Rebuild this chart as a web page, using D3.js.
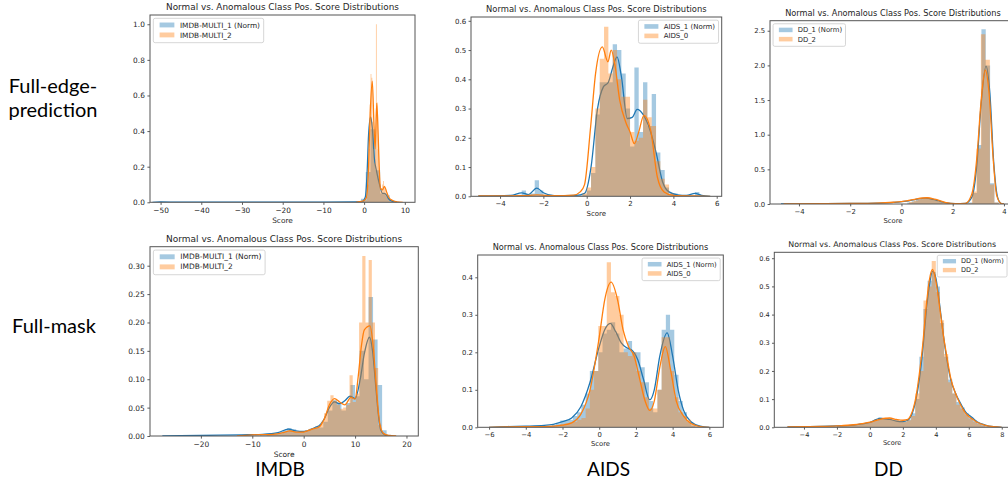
<!DOCTYPE html>
<html>
<head>
<meta charset="utf-8">
<script src="https://cdn.jsdelivr.net/npm/d3@7"></script>
<style>
  body { margin: 0; background: #fff; }
  svg { display: block; }
</style>
</head>
<body>
<svg id="fig" width="1008" height="480"></svg>
<script>
// ---- labels ----
const rowLabels = [["Full-edge-", "prediction"], ["Full-mask"]];
const colLabels = ["IMDB", "AIDS", "DD"];
const titleText = "Normal vs. Anomalous Class Pos. Score Distributions";
const imdbNames = ["IMDB-MULTI_1 (Norm)", "IMDB-MULTI_2"];
const aidsNames = ["AIDS_1 (Norm)", "AIDS_0"];
const ddNames = ["DD_1 (Norm)", "DD_2"];

// ---- tick labels ----
const imdbEdgeXTicks = [-50, -40, -30, -20, -10, 0, 10];
const imdbEdgeYTicks = [0, 0.2, 0.4, 0.6, 0.8, 1.0];
const aidsEdgeXTicks = [-4, -2, 0, 2, 4, 6];
const aidsEdgeYTicks = [0, 0.1, 0.2, 0.3, 0.4, 0.5, 0.6];
const ddEdgeXTicks = [-4, -2, 0, 2, 4];
const ddEdgeYTicks = [0, 0.5, 1.0, 1.5, 2.0, 2.5];
const imdbMaskXTicks = [-20, -10, 0, 10, 20];
const imdbMaskYTicks = [0, 0.05, 0.10, 0.15, 0.20, 0.25, 0.30];
const aidsMaskXTicks = [-6, -4, -2, 0, 2, 4, 6];
const aidsMaskYTicks = [0, 0.1, 0.2, 0.3, 0.4];
const ddMaskXTicks = [-4, -2, 0, 2, 4, 6, 8];
const ddMaskYTicks = [0, 0.1, 0.2, 0.3, 0.4, 0.5, 0.6];

// ---- histograms: first bin edge, bin width, densities ----
// Full-edge-prediction, IMDB
const imdbEdgeNormStart = -3.14, imdbEdgeNormWidth = 1.18;
const imdbEdgeNormHist = [0.002, 0.005, 0.02, 0.17, 0.41, 0.18, 0.05, 0.04, 0.012, 0.003];
const imdbEdgeAnomStart = -1.5, imdbEdgeAnomWidth = 0.22;
const imdbEdgeAnomHist = [0.003, 0.003, 0.004, 0.004, 0.005, 0.005, 0.006, 0.008, 0.01, 0.012,
  0.03, 0.1, 0.3, 0.55, 0.72, 0.7, 0.45, 0.3, 0.22, 0.35, 1.0, 0.56, 0.3, 0.15, 0.08,
  0.06, 0.07, 0.1, 0.12, 0.08, 0.07, 0.05, 0.03, 0.02, 0.012, 0.008, 0.005, 0.004, 0.003, 0.002];
// Full-edge-prediction, AIDS
const aidsEdgeNormStart = -3.2, aidsEdgeNormWidth = 0.2;
const aidsEdgeNormHist = [0.005, 0.02, 0.005, 0.01, 0.055, 0.02, 0.005, 0.002, 0.002, 0.002,
  0.002, 0.002, 0.002, 0.003, 0.004, 0.005, 0.02, 0.08, 0.28, 0.39, 0.39, 0.39, 0.52, 0.5,
  0.42, 0.3, 0.17, 0.44, 0.22, 0.39, 0.24, 0.35, 0.15, 0.09, 0.03, 0.01, 0.01, 0.004, 0.003,
  0.003, 0.003, 0.015, 0.003];
const aidsEdgeAnomStart = -0.2, aidsEdgeAnomWidth = 0.2;
const aidsEdgeAnomHist = [0.01, 0.03, 0.1, 0.3, 0.47, 0.58, 0.42, 0.5, 0.4, 0.34, 0.34, 0.22,
  0.19, 0.2, 0.33, 0.27, 0.24, 0.12, 0.06, 0.04, 0.01, 0.003];
// Full-edge-prediction, DD
const ddEdgeNormStart = 0.23, ddEdgeNormWidth = 0.17;
const ddEdgeNormHist = [0.02, 0.04, 0.06, 0.08, 0.09, 0.08, 0.05, 0.03, 0.01, 0.005, 0.003,
  0.002, 0.003, 0.005, 0.02, 0.16, 0.85, 2.52, 2.0, 0.3, 0.02];
const ddEdgeAnomStart = 0.3, ddEdgeAnomWidth = 0.175;
const ddEdgeAnomHist = [0.03, 0.05, 0.07, 0.09, 0.09, 0.07, 0.05, 0.025, 0.01, 0.004, 0.002,
  0.002, 0.004, 0.01, 0.18, 0.8, 2.45, 2.08, 0.28, 0.02];
// Full-mask, IMDB
const imdbMaskNormStart = -8.5, imdbMaskNormWidth = 0.88;
const imdbMaskNormHist = [0.002, 0.003, 0.004, 0.005, 0.007, 0.01, 0.014, 0.012, 0.008, 0.009,
  0.01, 0.013, 0.016, 0.015, 0.025, 0.045, 0.063, 0.058, 0.045, 0.058, 0.09, 0.07, 0.15, 0.1,
  0.245, 0.17, 0.09, 0.01, 0.002];
const imdbMaskAnomStart = -7.2, imdbMaskAnomWidth = 0.62;
const imdbMaskAnomHist = [0.002, 0.002, 0.003, 0.003, 0.004, 0.006, 0.008, 0.01, 0.008, 0.006,
  0.007, 0.008, 0.01, 0.012, 0.013, 0.014, 0.018, 0.025, 0.04, 0.062, 0.072, 0.062, 0.055,
  0.048, 0.05, 0.055, 0.107, 0.06, 0.075, 0.2, 0.317, 0.2, 0.31, 0.2, 0.12, 0.02, 0.005, 0.002];
// Full-mask, AIDS
const aidsMaskNormStart = -3.5, aidsMaskNormWidth = 0.23;
const aidsMaskNormHist = [0.003, 0.003, 0.003, 0.003, 0.006, 0.01, 0.018, 0.018, 0.02, 0.03,
  0.04, 0.06, 0.09, 0.15, 0.15, 0.2, 0.25, 0.26, 0.28, 0.25, 0.2, 0.21, 0.23, 0.2, 0.2, 0.16,
  0.12, 0.07, 0.04, 0.1, 0.26, 0.3, 0.26, 0.14, 0.07, 0.04, 0.015, 0.005, 0.002];
const aidsMaskAnomStart = -3.5, aidsMaskAnomWidth = 0.23;
const aidsMaskAnomHist = [0.002, 0.002, 0.002, 0.003, 0.003, 0.005, 0.008, 0.01, 0.012, 0.015,
  0.02, 0.025, 0.05, 0.1, 0.15, 0.27, 0.27, 0.44, 0.36, 0.35, 0.3, 0.2, 0.19, 0.2, 0.15, 0.12,
  0.08, 0.05, 0.05, 0.1, 0.24, 0.24, 0.15, 0.08, 0.04, 0.03, 0.02, 0.01, 0.003];
// Full-mask, DD
const ddMaskNormStart = -2.0, ddMaskNormWidth = 0.25;
const ddMaskNormHist = [0.005, 0.006, 0.007, 0.008, 0.01, 0.012, 0.014, 0.016, 0.02, 0.025,
  0.035, 0.03, 0.028, 0.025, 0.024, 0.022, 0.02, 0.028, 0.05, 0.1, 0.25, 0.42, 0.52, 0.55, 0.5,
  0.37, 0.25, 0.17, 0.12, 0.09, 0.07, 0.05, 0.035, 0.025, 0.015, 0.008, 0.004, 0.002];
const ddMaskAnomStart = -2.0, ddMaskAnomWidth = 0.25;
const ddMaskAnomHist = [0.004, 0.005, 0.006, 0.008, 0.01, 0.012, 0.014, 0.017, 0.02, 0.028,
  0.03, 0.035, 0.033, 0.03, 0.026, 0.022, 0.02, 0.025, 0.04, 0.12, 0.2, 0.45, 0.5, 0.59, 0.48,
  0.38, 0.26, 0.16, 0.12, 0.08, 0.065, 0.045, 0.03, 0.02, 0.012, 0.006, 0.003, 0.001];

// ---- kde curves: [score, density] ----
const imdbEdgeNormKde = [[-52, 0], [-50, 0.002], [-45, 0.001], [-30, 0.001], [-10, 0.001],
  [-2, 0.002], [-0.5, 0.004], [0.3, 0.03], [0.7, 0.15], [1.1, 0.38], [1.6, 0.48], [2.0, 0.42],
  [2.5, 0.25], [3.1, 0.17], [3.8, 0.1], [4.5, 0.05], [5.0, 0.05], [5.5, 0.04], [6, 0.02],
  [7, 0.005], [8, 0]];
const imdbEdgeAnomKde = [[-2, 0], [-1, 0.004], [0, 0.01], [0.6, 0.03], [1.0, 0.15], [1.5, 0.5],
  [2.0, 0.68], [2.4, 0.45], [2.7, 0.3], [3.1, 0.556], [3.35, 0.45], [3.7, 0.2], [4.0, 0.08],
  [4.5, 0.07], [5.0, 0.09], [5.5, 0.06], [6.0, 0.03], [7, 0.01], [8, 0.003], [9.5, 0]];
const aidsEdgeNormKde = [[-5, 0.001], [-3.5, 0.003], [-3.0, 0.012], [-2.7, 0.006], [-2.3, 0.028],
  [-2.0, 0.012], [-1.5, 0.002], [-0.5, 0.003], [-0.1, 0.01], [0.2, 0.1], [0.5, 0.3],
  [0.77, 0.374], [1.0, 0.39], [1.2, 0.44], [1.4, 0.477], [1.6, 0.41], [1.87, 0.266],
  [2.1, 0.27], [2.33, 0.297], [2.6, 0.28], [2.95, 0.22], [3.2, 0.15], [3.5, 0.05],
  [3.8, 0.015], [4.2, 0.005], [4.6, 0.003], [5.0, 0.01], [5.3, 0.003], [5.7, 0]];
const aidsEdgeAnomKde = [[-5, 0.001], [-3, 0.002], [-2.3, 0.005], [-1.5, 0.002], [-0.6, 0.004],
  [-0.3, 0.015], [-0.1, 0.04], [0.18, 0.237], [0.41, 0.42], [0.72, 0.511], [0.98, 0.46],
  [1.13, 0.5], [1.3, 0.45], [1.52, 0.33], [1.82, 0.25], [2.0, 0.22], [2.2, 0.18], [2.4, 0.22],
  [2.64, 0.277], [2.95, 0.226], [3.26, 0.066], [3.57, 0.015], [4, 0.003], [5, 0.001], [5.7, 0]];
const ddEdgeNormKde = [[-4.7, 0.002], [-3, 0.004], [-2, 0.007], [-1, 0.012], [-0.3, 0.022],
  [0.2, 0.04], [0.6, 0.07], [0.95, 0.085], [1.3, 0.06], [1.7, 0.02], [2.1, 0.004], [2.5, 0.008],
  [2.75, 0.1], [2.95, 0.6], [3.1, 1.4], [3.3, 1.99], [3.45, 1.6], [3.6, 0.6], [3.75, 0.1],
  [3.9, 0.005], [4.0, 0]];
const ddEdgeAnomKde = [[-4.6, 0.002], [-3, 0.004], [-2, 0.007], [-1, 0.012], [-0.3, 0.025],
  [0.2, 0.045], [0.6, 0.075], [1.0, 0.09], [1.3, 0.07], [1.7, 0.025], [2.1, 0.005], [2.5, 0.01],
  [2.75, 0.15], [2.95, 0.7], [3.1, 1.45], [3.27, 1.93], [3.42, 1.6], [3.58, 0.65], [3.72, 0.12],
  [3.9, 0.005], [4.0, 0]];
const imdbMaskNormKde = [[-27.5, 0], [-20, 0.001], [-12, 0.002], [-8, 0.003], [-5, 0.006],
  [-3, 0.012], [-1.5, 0.009], [0, 0.008], [1.5, 0.012], [2.2, 0.015], [3, 0.018], [4, 0.03],
  [5, 0.05], [6, 0.06], [7, 0.057], [8, 0.062], [9, 0.07], [10, 0.066], [11, 0.1],
  [11.8, 0.145], [12.8, 0.174], [13.4, 0.15], [14, 0.09], [14.5, 0.04], [15, 0.01],
  [16, 0.001], [17, 0]];
const imdbMaskAnomKde = [[-13, 0], [-10, 0.002], [-6, 0.003], [-4, 0.006], [-2.7, 0.009],
  [-1.5, 0.007], [0, 0.007], [1, 0.01], [2, 0.013], [3, 0.016], [4, 0.03], [5, 0.055],
  [6, 0.066], [7, 0.06], [8, 0.055], [9.2, 0.068], [10, 0.065], [10.6, 0.104], [11.25, 0.16],
  [11.8, 0.187], [12.9, 0.194], [13.5, 0.16], [14.17, 0.081], [14.8, 0.022], [15.5, 0.005],
  [16.5, 0.001], [18, 0]];
const aidsMaskNormKde = [[-6, 0], [-5, 0.002], [-4, 0.003], [-3, 0.005], [-2.5, 0.008],
  [-2, 0.015], [-1.5, 0.025], [-1, 0.055], [-0.5, 0.12], [0, 0.215], [0.3, 0.26], [0.6, 0.277],
  [0.9, 0.255], [1.2, 0.225], [1.5, 0.212], [1.8, 0.205], [2.1, 0.18], [2.4, 0.13],
  [2.75, 0.073], [3.0, 0.1], [3.3, 0.19], [3.7, 0.252], [4.0, 0.19], [4.3, 0.1], [4.6, 0.045],
  [5.0, 0.015], [5.5, 0.003], [6.0, 0]];
const aidsMaskAnomKde = [[-6, 0], [-5, 0.001], [-3, 0.002], [-2, 0.006], [-1.5, 0.012],
  [-1, 0.035], [-0.5, 0.1], [0, 0.24], [0.3, 0.34], [0.65, 0.387], [1.0, 0.34], [1.3, 0.26],
  [1.6, 0.215], [1.9, 0.19], [2.2, 0.13], [2.5, 0.07], [2.75, 0.045], [3.0, 0.07], [3.3, 0.16],
  [3.6, 0.215], [3.9, 0.15], [4.2, 0.07], [4.6, 0.03], [5.0, 0.01], [5.5, 0.002], [6, 0]];
const ddMaskNormKde = [[-5, 0.001], [-4, 0.002], [-3, 0.003], [-2, 0.005], [-1, 0.008],
  [-0.5, 0.012], [0, 0.017], [0.4, 0.028], [0.6, 0.032], [0.9, 0.03], [1.2, 0.028], [1.6, 0.022],
  [2.0, 0.02], [2.3, 0.025], [2.5, 0.04], [2.8, 0.1], [3.0, 0.17], [3.2, 0.27], [3.4, 0.4],
  [3.6, 0.5], [3.8, 0.553], [4.0, 0.53], [4.2, 0.45], [4.45, 0.33], [4.7, 0.23], [4.9, 0.17],
  [5.2, 0.12], [5.5, 0.085], [5.8, 0.055], [6.2, 0.035], [6.5, 0.02], [7, 0.008], [7.5, 0.002],
  [8, 0]];
const ddMaskAnomKde = [[-5, 0.001], [-4, 0.002], [-3, 0.003], [-2, 0.005], [-1, 0.009],
  [-0.5, 0.013], [0, 0.018], [0.4, 0.025], [0.8, 0.031], [1.2, 0.033], [1.6, 0.028], [2.0, 0.025],
  [2.3, 0.028], [2.5, 0.045], [2.8, 0.11], [3.0, 0.19], [3.2, 0.29], [3.4, 0.42], [3.6, 0.52],
  [3.8, 0.56], [4.0, 0.52], [4.2, 0.44], [4.45, 0.33], [4.7, 0.24], [4.9, 0.175], [5.2, 0.12],
  [5.5, 0.08], [5.8, 0.05], [6.2, 0.03], [6.5, 0.018], [7, 0.007], [7.5, 0.002], [8, 0]];

const colors = ["#1f77b4", "#ff7f0e"];

// Panel layout: box = [left, right, top, bottom] in px, ts = title font size
const panels = [
  { box: [150, 415, 15, 202.3], xDomain: [-52.6, 12.5], yDomain: [0, 1.052], ts: 8.86,
    xTicks: imdbEdgeXTicks, yTicks: imdbEdgeYTicks, yFmt: ".1f", legend: "left", names: imdbNames,
    series: [
      { start: imdbEdgeNormStart, width: imdbEdgeNormWidth, hist: imdbEdgeNormHist, kde: imdbEdgeNormKde },
      { start: imdbEdgeAnomStart, width: imdbEdgeAnomWidth, hist: imdbEdgeAnomHist, kde: imdbEdgeAnomKde }] },
  { box: [471, 721.7, 17, 196.3], xDomain: [-5.34, 6.23], yDomain: [0, 0.613], ts: 8.4,
    xTicks: aidsEdgeXTicks, yTicks: aidsEdgeYTicks, yFmt: ".1f", legend: "right", names: aidsNames,
    series: [
      { start: aidsEdgeNormStart, width: aidsEdgeNormWidth, hist: aidsEdgeNormHist, kde: aidsEdgeNormKde },
      { start: aidsEdgeAnomStart, width: aidsEdgeAnomWidth, hist: aidsEdgeAnomHist, kde: aidsEdgeAnomKde }] },
  { box: [770, 1016, 20.7, 204], xDomain: [-5.13, 4.47], yDomain: [0, 2.645], ts: 8.2,
    xTicks: ddEdgeXTicks, yTicks: ddEdgeYTicks, yFmt: ".1f", legend: "left", names: ddNames,
    series: [
      { start: ddEdgeNormStart, width: ddEdgeNormWidth, hist: ddEdgeNormHist, kde: ddEdgeNormKde },
      { start: ddEdgeAnomStart, width: ddEdgeAnomWidth, hist: ddEdgeAnomHist, kde: ddEdgeAnomKde }] },
  { box: [150, 418.3, 246.7, 436], xDomain: [-29.9, 22.3], yDomain: [0, 0.3335], ts: 8.97,
    xTicks: imdbMaskXTicks, yTicks: imdbMaskYTicks, yFmt: ".2f", legend: "left", names: imdbNames,
    series: [
      { start: imdbMaskNormStart, width: imdbMaskNormWidth, hist: imdbMaskNormHist, kde: imdbMaskNormKde },
      { start: imdbMaskAnomStart, width: imdbMaskAnomWidth, hist: imdbMaskAnomHist, kde: imdbMaskAnomKde }] },
  { box: [477.7, 723.3, 255, 427.3], xDomain: [-6.62, 6.76], yDomain: [0, 0.4595], ts: 8.2,
    xTicks: aidsMaskXTicks, yTicks: aidsMaskYTicks, yFmt: ".1f", legend: "right", names: aidsNames,
    series: [
      { start: aidsMaskNormStart, width: aidsMaskNormWidth, hist: aidsMaskNormHist, kde: aidsMaskNormKde },
      { start: aidsMaskAnomStart, width: aidsMaskAnomWidth, hist: aidsMaskAnomHist, kde: aidsMaskAnomKde }] },
  { box: [774.3, 1010, 252.3, 427.3], xDomain: [-5.8, 8.5], yDomain: [0, 0.621], ts: 7.9,
    xTicks: ddMaskXTicks, yTicks: ddMaskYTicks, yFmt: ".1f", legend: "right", names: ddNames,
    series: [
      { start: ddMaskNormStart, width: ddMaskNormWidth, hist: ddMaskNormHist, kde: ddMaskNormKde },
      { start: ddMaskAnomStart, width: ddMaskAnomWidth, hist: ddMaskAnomHist, kde: ddMaskAnomKde }] }
];

const svg = d3.select("#fig");
svg.append("rect").attr("width", 1008).attr("height", 480).attr("fill", "#fff");

panels.forEach((p, pi) => {
  const [l, r, t, b] = p.box;
  const k = p.ts / 12;          // px per pt for this panel
  const f = 10 * k;             // tick / legend / label font size
  const x = d3.scaleLinear().domain(p.xDomain).range([l, r]);
  const y = d3.scaleLinear().domain(p.yDomain).range([b, t]);

  const g = svg.append("g").attr("font-family", "DejaVu Sans, sans-serif");
  g.append("clipPath").attr("id", "clip" + pi)
    .append("rect").attr("x", l).attr("y", t).attr("width", r - l).attr("height", b - t);
  const plot = g.append("g").attr("clip-path", `url(#clip${pi})`);

  // histogram (step area) then kde, per series
  p.series.forEach((s, si) => {
    const pts = s.hist.map((h, i) => [s.start + i * s.width, h]);
    pts.push([s.start + s.hist.length * s.width, 0]);
    plot.append("path")
      .datum(pts)
      .attr("d", d3.area().x(d => x(d[0])).y0(y(0)).y1(d => y(d[1])).curve(d3.curveStepAfter))
      .attr("fill", colors[si])
      .attr("fill-opacity", 0.4);
    plot.append("path")
      .datum(s.kde)
      .attr("d", d3.line().x(d => x(d[0])).y(d => y(d[1])).curve(d3.curveMonotoneX))
      .attr("fill", "none")
      .attr("stroke", colors[si])
      .attr("stroke-width", 1.3);
  });

  // axes
  const xAxis = g.append("g").attr("transform", `translate(0,${b})`)
    .call(d3.axisBottom(x).tickValues(p.xTicks).tickSize(3.5 * k).tickPadding(3.5 * k)
      .tickFormat(d3.format("d")));
  const yAxis = g.append("g").attr("transform", `translate(${l},0)`)
    .call(d3.axisLeft(y).tickValues(p.yTicks).tickSize(3.5 * k).tickPadding(3.5 * k)
      .tickFormat(d3.format(p.yFmt)));
  [xAxis, yAxis].forEach(a => {
    a.select(".domain").remove();
    a.attr("font-size", f).attr("font-family", "DejaVu Sans, sans-serif");
    a.selectAll("line").attr("stroke", "#333").attr("stroke-width", 0.8);
    a.selectAll("text").attr("fill", "#262626");
  });

  // frame
  g.append("rect").attr("x", l).attr("y", t).attr("width", r - l).attr("height", b - t)
    .attr("fill", "none").attr("stroke", "#555").attr("stroke-width", 1);

  // x label and title
  g.append("text").attr("x", (l + r) / 2).attr("y", b + 2.75 * f)
    .attr("text-anchor", "middle").attr("font-size", f).attr("fill", "#262626").text("Score");
  g.append("text").attr("x", (l + r) / 2).attr("y", t - 5)
    .attr("text-anchor", "middle").attr("font-size", p.ts).attr("fill", "#262626").text(titleText);

  // legend
  const lg = g.append("g");
  const box = lg.append("rect");
  const labels = p.names.map((n, i) => lg.append("text")
    .attr("font-size", f).attr("fill", "#262626").attr("dy", "0.35em").text(n));
  const tw = d3.max(labels, tx => tx.node().getComputedTextLength());
  const bw = 3.6 * f + tw + 0.5 * f;
  const bh = 3.3 * f;
  const x0 = p.legend === "left" ? l + 0.45 * f : r - 0.45 * f - bw;
  const y0 = t + 0.45 * f;
  box.attr("x", x0).attr("y", y0).attr("width", bw).attr("height", bh)
    .attr("rx", 0.25 * f).attr("fill", "#fff").attr("fill-opacity", 0.8)
    .attr("stroke", "#ccc").attr("stroke-width", 0.8);
  p.names.forEach((n, i) => {
    const cy = y0 + (i === 0 ? 0.9 : 2.25) * f;
    lg.append("rect").attr("x", x0 + 0.85 * f).attr("y", cy - 0.33 * f)
      .attr("width", 2 * f).attr("height", 0.66 * f)
      .attr("fill", colors[i]).attr("fill-opacity", 0.4);
    labels[i].attr("x", x0 + 3.6 * f).attr("y", cy);
  });
});

// row and column captions
const cap = svg.append("g").attr("font-family", "Lato, 'Open Sans', sans-serif")
  .attr("fill", "#000").attr("text-anchor", "middle");
cap.append("text").attr("x", 53).attr("y", 92.7).attr("font-size", 20).text(rowLabels[0][0]);
cap.append("text").attr("x", 53).attr("y", 117.3).attr("font-size", 20).text(rowLabels[0][1]);
cap.append("text").attr("x", 54).attr("y", 333.3).attr("font-size", 20).text(rowLabels[1][0]);
[280, 608.5, 888.5].forEach((cx, i) => {
  cap.append("text").attr("x", cx).attr("y", 476).attr("font-size", 19).text(colLabels[i]);
});
</script>
</body>
</html>
